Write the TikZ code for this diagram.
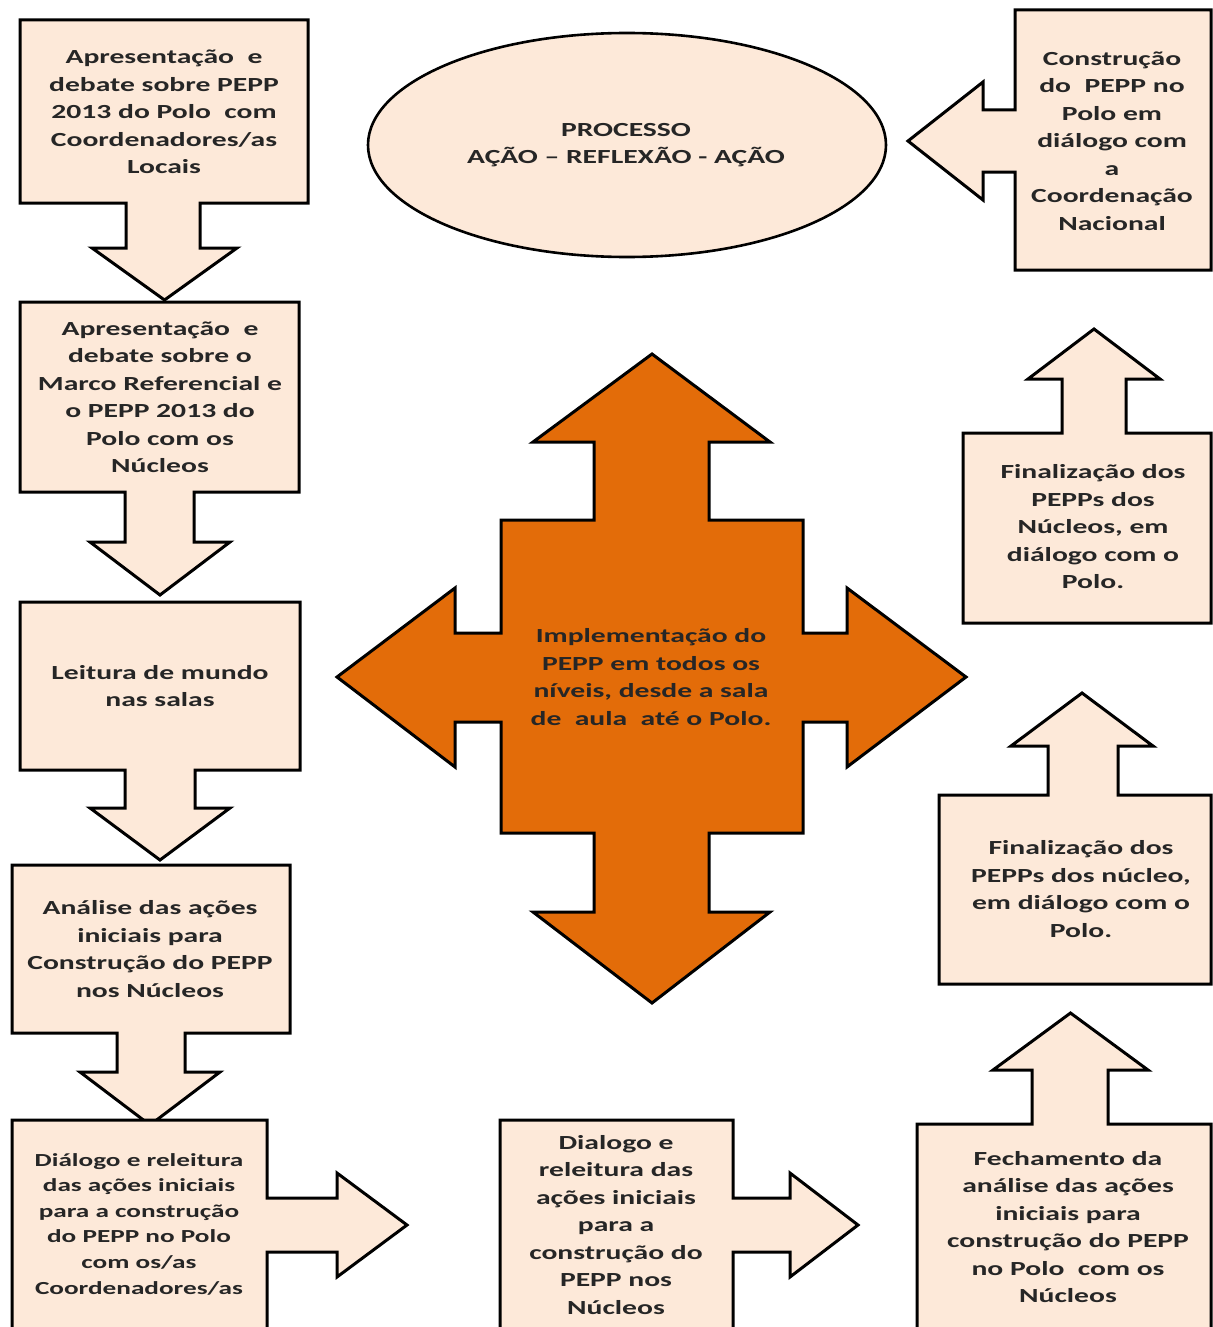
\documentclass[tikz,border=0pt]{standalone}
\usepackage{fontspec}
\setmainfont{Carlito}[FakeStretch=1.48]
\definecolor{pessego}{HTML}{FDE9D9}
\definecolor{laranja}{HTML}{E36C09}
\definecolor{texto}{HTML}{262626}
\tikzset{
  caixa/.style={draw=black, fill=pessego, line width=1.5pt, line join=miter},
  cruz/.style={caixa, fill=laranja},
  rotulo/.style={align=center, text=texto, inner sep=0pt, font=\bfseries\fontsize{10}{13.75}\selectfont},
  rotulop/.style={rotulo, font=\bfseries\fontsize{9.2}{12.8}\selectfont}
}
\begin{document}
\begin{tikzpicture}[x=0.5pt,y=-0.5pt]
\useasboundingbox (0,0) rectangle (1213,1327);
\clip (0,0) rectangle (1213,1327);
% caixas da esquerda, seta para baixo
\foreach \xe/\yc/\xd/\yb/\ha/\hb/\hy/\wa/\wb/\py in {20/20/308/203/126/200/248/92/237/300,20/302/299/492/125/194/542/90/230/595,20/602/300/770/125/195/808/90/230/860,12/865/290/1033/117/185/1072/80/220/1125}
  \draw[caixa] (\xe,\yc) -- (\xd,\yc) -- (\xd,\yb) -- (\hb,\yb) -- (\hb,\hy) -- (\wb,\hy) -- ({(\wa+\wb)/2},\py) -- (\wa,\hy) -- (\ha,\hy) -- (\ha,\yb) -- (\xe,\yb) -- cycle;
% caixas de baixo, seta para a direita
\foreach \xe/\xd/\hx/\tx in {12/267/337/407,500/733/790/858}
  \draw[caixa] (\xe,1120) -- (\xd,1120) -- (\xd,1198) -- (\hx,1198) -- (\hx,1173) -- (\tx,1225) -- (\hx,1277) -- (\hx,1252) -- (\xd,1252) -- (\xd,1340) -- (\xe,1340) -- cycle;
% caixas da direita, seta para cima
\foreach \xe/\yc/\yb/\ha/\hb/\hy/\wa/\wb/\py in {917/1124/1340/1032/1108/1070/993/1148/1013,939/795/984/1048/1118/746/1011/1153/693,963/433/623/1062/1126/379/1028/1160/329}
  \draw[caixa] (\xe,\yc) -- (\ha,\yc) -- (\ha,\hy) -- (\wa,\hy) -- ({(\wa+\wb)/2},\py) -- (\wb,\hy) -- (\hb,\hy) -- (\hb,\yc) -- (1211,\yc) -- (1211,\yb) -- (\xe,\yb) -- cycle;
\draw[caixa] (1015,10) -- (1211,10) -- (1211,270) -- (1015,270) -- (1015,172) -- (983,172) -- (983,200) -- (908,141) -- (983,82) -- (983,110) -- (1015,110) -- cycle;
\draw[caixa, line width=1.3pt] (627,145) ellipse [x radius=259, y radius=112];
% seta de quatro pontas
\draw[cruz] (501,520) -- (594,520) -- (594,442) -- (533,442) -- (652,354) -- (770,442) -- (709,442) -- (709,520) -- (803,520) -- (803,633) -- (847,633) -- (847,588) -- (966,677) -- (847,767) -- (847,722) -- (803,722) -- (803,833) -- (709,833) -- (709,912) -- (770,912) -- (652,1003) -- (533,912) -- (594,912) -- (594,833) -- (501,833) -- (501,722) -- (455,722) -- (455,767) -- (337,677) -- (455,588) -- (455,633) -- (501,633) -- cycle;

\node[rotulo] (apresenta) at (164,112) {Apresentação\ \ e\\debate sobre PEPP\\2013 do Polo\ \ com\\Coordenadores/as\\Locais};
\node[rotulo] (marco) at (160,397) {Apresentação\ \ e\\debate sobre o\\Marco Referencial e\\o PEPP 2013 do\\Polo com os\\Núcleos};
\node[rotulo] (leitura) at (160,686) {Leitura de mundo\\nas salas};
\node[rotulo] (analise) at (150,949) {Análise das ações\\iniciais para\\Construção do PEPP\\nos Núcleos};
\node[rotulop] (dialogopolo) at (139,1224) {Diálogo e releitura\\das ações iniciais\\para a construção\\do PEPP no Polo\\com os/as\\Coordenadores/as};
\node[rotulo] (dialogonucleo) at (616,1225) {Dialogo e\\releitura das\\ações iniciais\\para a\\construção do\\PEPP nos\\Núcleos};
\node[rotulo] (fechamento) at (1068,1227) {Fechamento da\\análise das ações\\iniciais para\\construção do PEPP\\no Polo\ \ com os\\Núcleos};
\node[rotulo] (finalnucleo) at (1081,889) {Finalização dos\\PEPPs dos núcleo,\\em diálogo com o\\Polo.};
\node[rotulo] (finalpolo) at (1093,527) {Finalização dos\\PEPPs dos\\Núcleos, em\\diálogo com o\\Polo.};
\node[rotulo] (construcao) at (1112,141) {Construção\\do\ \ PEPP no\\Polo em\\diálogo com\\a\\Coordenação\\Nacional};
\node[rotulo] (processo) at (626,145) {PROCESSO\\AÇÃO – REFLEXÃO - AÇÃO};
\node[rotulo] (implementa) at (651,677) {Implementação do\\PEPP em todos os\\níveis, desde a sala\\de\ \ aula\ \ até o Polo.};
\end{tikzpicture}
\end{document}
